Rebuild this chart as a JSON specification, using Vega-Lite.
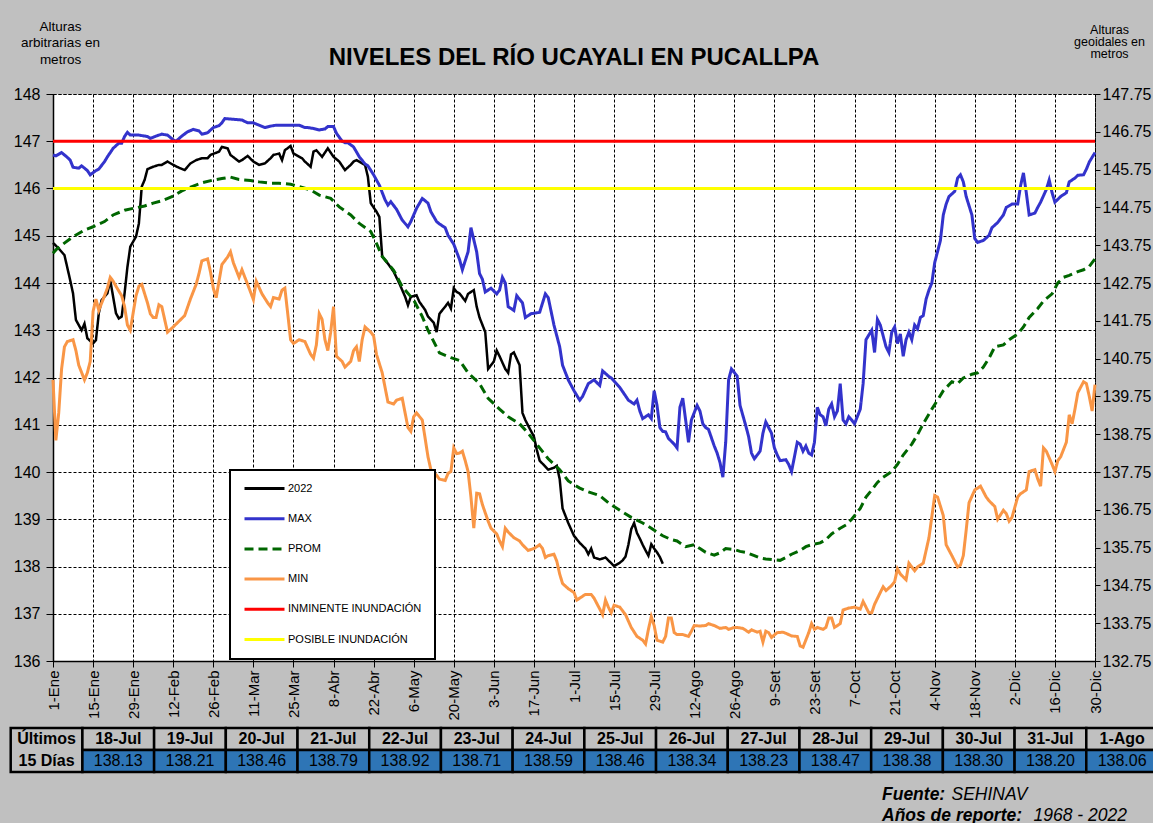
{
"$schema": "https://vega.github.io/schema/vega-lite/v6.json",
"width": 1042,
"height": 567,
"autosize": "none",
"padding": {"left": 53, "top": 94, "right": 58, "bottom": 162},
"background": "#c0c0c0",
"config": {
  "font": "Liberation Sans",
  "view": {"fill": "#ffffff", "stroke": "#000000", "strokeDash": [3, 2], "strokeWidth": 1},
  "axis": {"labelFont": "Liberation Sans", "titleFont": "Liberation Sans", "labelColor": "#000000", "titleColor": "#000000", "tickColor": "#000000", "domainColor": "#000000", "gridColor": "#000000", "gridDash": [3, 2], "gridWidth": 1, "gridOpacity": 1}
},
"title": {"text": "NIVELES  DEL RÍO UCAYALI  EN PUCALLPA", "font": "Liberation Sans", "fontSize": 24, "fontWeight": "bold", "color": "#000000", "anchor": "middle", "frame": "group", "offset": 0, "dy": 51},
"datasets": {
"d2022": [{"dia":1,"nivel":144.85},{"dia":3,"nivel":144.73},{"dia":5,"nivel":144.59},{"dia":7,"nivel":144.06},{"dia":8,"nivel":143.78},{"dia":9,"nivel":143.22},{"dia":11,"nivel":143.0},{"dia":12,"nivel":143.14},{"dia":13,"nivel":142.83},{"dia":15,"nivel":142.72},{"dia":16,"nivel":142.79},{"dia":17,"nivel":143.36},{"dia":18,"nivel":143.64},{"dia":20,"nivel":143.78},{"dia":21,"nivel":144.06},{"dia":23,"nivel":143.36},{"dia":24,"nivel":143.25},{"dia":25,"nivel":143.29},{"dia":26,"nivel":143.78},{"dia":27,"nivel":144.34},{"dia":28,"nivel":144.77},{"dia":30,"nivel":144.98},{"dia":31,"nivel":145.26},{"dia":32,"nivel":146.04},{"dia":33,"nivel":146.18},{"dia":34,"nivel":146.41},{"dia":36,"nivel":146.46},{"dia":38,"nivel":146.5},{"dia":39,"nivel":146.5},{"dia":41,"nivel":146.57},{"dia":43,"nivel":146.5},{"dia":45,"nivel":146.44},{"dia":47,"nivel":146.39},{"dia":49,"nivel":146.53},{"dia":51,"nivel":146.6},{"dia":53,"nivel":146.64},{"dia":55,"nivel":146.64},{"dia":56,"nivel":146.71},{"dia":59,"nivel":146.78},{"dia":60,"nivel":146.88},{"dia":62,"nivel":146.85},{"dia":63,"nivel":146.71},{"dia":66,"nivel":146.57},{"dia":67,"nivel":146.6},{"dia":69,"nivel":146.69},{"dia":71,"nivel":146.57},{"dia":73,"nivel":146.5},{"dia":75,"nivel":146.53},{"dia":77,"nivel":146.64},{"dia":78,"nivel":146.71},{"dia":80,"nivel":146.74},{"dia":81,"nivel":146.6},{"dia":82,"nivel":146.81},{"dia":84,"nivel":146.9},{"dia":85,"nivel":146.74},{"dia":88,"nivel":146.64},{"dia":89,"nivel":146.57},{"dia":91,"nivel":146.46},{"dia":92,"nivel":146.78},{"dia":93,"nivel":146.81},{"dia":95,"nivel":146.67},{"dia":97,"nivel":146.85},{"dia":99,"nivel":146.67},{"dia":101,"nivel":146.57},{"dia":103,"nivel":146.39},{"dia":105,"nivel":146.5},{"dia":106,"nivel":146.57},{"dia":107,"nivel":146.6},{"dia":110,"nivel":146.5},{"dia":111,"nivel":146.25},{"dia":112,"nivel":145.69},{"dia":114,"nivel":145.51},{"dia":115,"nivel":145.4},{"dia":116,"nivel":144.56},{"dia":118,"nivel":144.41},{"dia":120,"nivel":144.24},{"dia":122,"nivel":143.99},{"dia":124,"nivel":143.71},{"dia":125,"nivel":143.53},{"dia":126,"nivel":143.71},{"dia":128,"nivel":143.74},{"dia":129,"nivel":143.6},{"dia":131,"nivel":143.43},{"dia":132,"nivel":143.29},{"dia":134,"nivel":143.16},{"dia":135,"nivel":142.96},{"dia":136,"nivel":143.35},{"dia":138,"nivel":143.5},{"dia":139,"nivel":143.58},{"dia":140,"nivel":143.46},{"dia":141,"nivel":143.89},{"dia":142,"nivel":143.81},{"dia":143,"nivel":143.78},{"dia":145,"nivel":143.62},{"dia":146,"nivel":143.77},{"dia":148,"nivel":143.85},{"dia":149,"nivel":143.5},{"dia":150,"nivel":143.27},{"dia":152,"nivel":142.96},{"dia":153,"nivel":142.18},{"dia":155,"nivel":142.34},{"dia":156,"nivel":142.57},{"dia":157,"nivel":142.45},{"dia":159,"nivel":142.18},{"dia":160,"nivel":142.1},{"dia":161,"nivel":142.49},{"dia":162,"nivel":142.53},{"dia":164,"nivel":142.26},{"dia":165,"nivel":141.25},{"dia":166,"nivel":141.1},{"dia":167,"nivel":140.98},{"dia":169,"nivel":140.75},{"dia":170,"nivel":140.47},{"dia":171,"nivel":140.24},{"dia":174,"nivel":140.05},{"dia":176,"nivel":140.09},{"dia":177,"nivel":140.13},{"dia":178,"nivel":139.85},{"dia":179,"nivel":139.23},{"dia":181,"nivel":138.92},{"dia":183,"nivel":138.65},{"dia":185,"nivel":138.5},{"dia":187,"nivel":138.38},{"dia":188,"nivel":138.26},{"dia":189,"nivel":138.38},{"dia":190,"nivel":138.19},{"dia":192,"nivel":138.15},{"dia":194,"nivel":138.19},{"dia":196,"nivel":138.07},{"dia":197,"nivel":138.01},{"dia":199,"nivel":138.08},{"dia":200,"nivel":138.13},{"dia":201,"nivel":138.21},{"dia":202,"nivel":138.46},{"dia":203,"nivel":138.79},{"dia":204,"nivel":138.92},{"dia":205,"nivel":138.71},{"dia":206,"nivel":138.59},{"dia":207,"nivel":138.46},{"dia":208,"nivel":138.34},{"dia":209,"nivel":138.23},{"dia":210,"nivel":138.47},{"dia":211,"nivel":138.38},{"dia":212,"nivel":138.3},{"dia":213,"nivel":138.2},{"dia":214,"nivel":138.06}],
"dmax": [{"dia":1,"nivel":146.71},{"dia":2,"nivel":146.69},{"dia":4,"nivel":146.76},{"dia":6,"nivel":146.66},{"dia":7,"nivel":146.6},{"dia":8,"nivel":146.45},{"dia":10,"nivel":146.43},{"dia":11,"nivel":146.48},{"dia":13,"nivel":146.38},{"dia":14,"nivel":146.29},{"dia":16,"nivel":146.38},{"dia":17,"nivel":146.41},{"dia":19,"nivel":146.57},{"dia":20,"nivel":146.67},{"dia":22,"nivel":146.85},{"dia":24,"nivel":146.96},{"dia":25,"nivel":146.96},{"dia":26,"nivel":147.1},{"dia":27,"nivel":147.19},{"dia":28,"nivel":147.13},{"dia":31,"nivel":147.13},{"dia":34,"nivel":147.1},{"dia":35,"nivel":147.06},{"dia":37,"nivel":147.11},{"dia":39,"nivel":147.15},{"dia":41,"nivel":147.13},{"dia":43,"nivel":147.03},{"dia":44,"nivel":147.0},{"dia":46,"nivel":147.11},{"dia":48,"nivel":147.2},{"dia":50,"nivel":147.25},{"dia":52,"nivel":147.22},{"dia":53,"nivel":147.15},{"dia":55,"nivel":147.18},{"dia":57,"nivel":147.29},{"dia":59,"nivel":147.33},{"dia":60,"nivel":147.39},{"dia":61,"nivel":147.48},{"dia":63,"nivel":147.47},{"dia":65,"nivel":147.46},{"dia":67,"nivel":147.45},{"dia":69,"nivel":147.39},{"dia":71,"nivel":147.39},{"dia":73,"nivel":147.34},{"dia":75,"nivel":147.29},{"dia":77,"nivel":147.32},{"dia":79,"nivel":147.34},{"dia":82,"nivel":147.34},{"dia":85,"nivel":147.34},{"dia":87,"nivel":147.34},{"dia":89,"nivel":147.29},{"dia":90,"nivel":147.29},{"dia":92,"nivel":147.27},{"dia":94,"nivel":147.24},{"dia":96,"nivel":147.26},{"dia":97,"nivel":147.31},{"dia":99,"nivel":147.31},{"dia":100,"nivel":147.17},{"dia":102,"nivel":147.0},{"dia":103,"nivel":146.97},{"dia":104,"nivel":146.97},{"dia":106,"nivel":146.88},{"dia":108,"nivel":146.67},{"dia":110,"nivel":146.52},{"dia":111,"nivel":146.48},{"dia":113,"nivel":146.29},{"dia":115,"nivel":146.07},{"dia":117,"nivel":145.76},{"dia":118,"nivel":145.65},{"dia":119,"nivel":145.72},{"dia":121,"nivel":145.56},{"dia":123,"nivel":145.33},{"dia":125,"nivel":145.19},{"dia":126,"nivel":145.3},{"dia":128,"nivel":145.58},{"dia":130,"nivel":145.79},{"dia":132,"nivel":145.69},{"dia":133,"nivel":145.51},{"dia":135,"nivel":145.3},{"dia":136,"nivel":145.25},{"dia":138,"nivel":145.17},{"dia":139,"nivel":145.01},{"dia":141,"nivel":144.82},{"dia":143,"nivel":144.5},{"dia":144,"nivel":144.28},{"dia":146,"nivel":144.66},{"dia":147,"nivel":145.17},{"dia":149,"nivel":144.66},{"dia":150,"nivel":144.2},{"dia":151,"nivel":144.08},{"dia":152,"nivel":143.81},{"dia":154,"nivel":143.89},{"dia":156,"nivel":143.77},{"dia":157,"nivel":143.85},{"dia":158,"nivel":144.12},{"dia":159,"nivel":144.0},{"dia":160,"nivel":143.5},{"dia":162,"nivel":143.42},{"dia":163,"nivel":143.73},{"dia":165,"nivel":143.58},{"dia":166,"nivel":143.27},{"dia":168,"nivel":143.35},{"dia":171,"nivel":143.38},{"dia":173,"nivel":143.77},{"dia":174,"nivel":143.69},{"dia":176,"nivel":143.11},{"dia":178,"nivel":142.65},{"dia":179,"nivel":142.26},{"dia":181,"nivel":141.95},{"dia":183,"nivel":141.72},{"dia":185,"nivel":141.52},{"dia":186,"nivel":141.6},{"dia":188,"nivel":141.87},{"dia":190,"nivel":141.95},{"dia":192,"nivel":141.83},{"dia":193,"nivel":142.14},{"dia":195,"nivel":142.03},{"dia":196,"nivel":141.99},{"dia":199,"nivel":141.79},{"dia":202,"nivel":141.52},{"dia":204,"nivel":141.44},{"dia":205,"nivel":141.52},{"dia":206,"nivel":141.29},{"dia":207,"nivel":141.13},{"dia":209,"nivel":141.21},{"dia":210,"nivel":141.13},{"dia":211,"nivel":141.72},{"dia":212,"nivel":141.41},{"dia":213,"nivel":140.94},{"dia":214,"nivel":140.86},{"dia":215,"nivel":140.85},{"dia":216,"nivel":140.71},{"dia":218,"nivel":140.59},{"dia":219,"nivel":140.51},{"dia":220,"nivel":141.37},{"dia":221,"nivel":141.56},{"dia":222,"nivel":141.1},{"dia":223,"nivel":140.63},{"dia":224,"nivel":141.1},{"dia":226,"nivel":141.41},{"dia":227,"nivel":141.29},{"dia":228,"nivel":141.02},{"dia":229,"nivel":140.94},{"dia":230,"nivel":140.9},{"dia":232,"nivel":140.55},{"dia":233,"nivel":140.4},{"dia":234,"nivel":140.2},{"dia":235,"nivel":139.89},{"dia":236,"nivel":140.63},{"dia":237,"nivel":141.95},{"dia":238,"nivel":142.18},{"dia":240,"nivel":142.03},{"dia":241,"nivel":141.41},{"dia":243,"nivel":140.98},{"dia":244,"nivel":140.75},{"dia":245,"nivel":140.4},{"dia":246,"nivel":140.28},{"dia":248,"nivel":140.44},{"dia":249,"nivel":140.82},{"dia":250,"nivel":141.06},{"dia":252,"nivel":140.82},{"dia":253,"nivel":140.51},{"dia":254,"nivel":140.36},{"dia":255,"nivel":140.24},{"dia":257,"nivel":140.26},{"dia":258,"nivel":140.16},{"dia":259,"nivel":140.01},{"dia":260,"nivel":140.32},{"dia":261,"nivel":140.63},{"dia":262,"nivel":140.59},{"dia":263,"nivel":140.44},{"dia":264,"nivel":140.55},{"dia":265,"nivel":140.4},{"dia":266,"nivel":140.36},{"dia":267,"nivel":140.63},{"dia":268,"nivel":141.37},{"dia":269,"nivel":141.21},{"dia":270,"nivel":141.17},{"dia":271,"nivel":140.98},{"dia":272,"nivel":141.33},{"dia":273,"nivel":141.44},{"dia":274,"nivel":141.17},{"dia":275,"nivel":141.29},{"dia":276,"nivel":141.87},{"dia":277,"nivel":141.1},{"dia":278,"nivel":141.02},{"dia":279,"nivel":141.17},{"dia":280,"nivel":141.1},{"dia":281,"nivel":141.02},{"dia":283,"nivel":141.33},{"dia":284,"nivel":141.87},{"dia":285,"nivel":142.8},{"dia":287,"nivel":143.0},{"dia":288,"nivel":142.53},{"dia":289,"nivel":143.23},{"dia":290,"nivel":143.11},{"dia":292,"nivel":142.65},{"dia":293,"nivel":142.53},{"dia":294,"nivel":142.96},{"dia":295,"nivel":143.07},{"dia":296,"nivel":142.72},{"dia":297,"nivel":142.92},{"dia":298,"nivel":142.45},{"dia":299,"nivel":142.8},{"dia":300,"nivel":142.96},{"dia":301,"nivel":142.8},{"dia":302,"nivel":143.11},{"dia":303,"nivel":143.03},{"dia":304,"nivel":143.27},{"dia":305,"nivel":143.31},{"dia":306,"nivel":143.66},{"dia":307,"nivel":143.85},{"dia":308,"nivel":144.0},{"dia":309,"nivel":144.43},{"dia":311,"nivel":144.9},{"dia":312,"nivel":145.44},{"dia":313,"nivel":145.67},{"dia":314,"nivel":145.83},{"dia":316,"nivel":145.94},{"dia":317,"nivel":146.22},{"dia":318,"nivel":146.29},{"dia":319,"nivel":146.14},{"dia":320,"nivel":145.83},{"dia":322,"nivel":145.44},{"dia":323,"nivel":144.94},{"dia":324,"nivel":144.86},{"dia":326,"nivel":144.9},{"dia":328,"nivel":145.01},{"dia":329,"nivel":145.17},{"dia":331,"nivel":145.28},{"dia":333,"nivel":145.44},{"dia":334,"nivel":145.6},{"dia":336,"nivel":145.67},{"dia":338,"nivel":145.67},{"dia":339,"nivel":146.06},{"dia":340,"nivel":146.33},{"dia":341,"nivel":145.91},{"dia":342,"nivel":145.44},{"dia":344,"nivel":145.48},{"dia":345,"nivel":145.6},{"dia":346,"nivel":145.71},{"dia":348,"nivel":145.98},{"dia":349,"nivel":146.18},{"dia":350,"nivel":145.91},{"dia":351,"nivel":145.71},{"dia":353,"nivel":145.83},{"dia":355,"nivel":145.91},{"dia":356,"nivel":146.14},{"dia":358,"nivel":146.22},{"dia":359,"nivel":146.28},{"dia":361,"nivel":146.29},{"dia":362,"nivel":146.41},{"dia":363,"nivel":146.56},{"dia":365,"nivel":146.76}],
"dprom": [{"dia":1,"nivel":144.63},{"dia":2,"nivel":144.7},{"dia":4,"nivel":144.8},{"dia":8,"nivel":144.98},{"dia":12,"nivel":145.12},{"dia":15,"nivel":145.19},{"dia":19,"nivel":145.3},{"dia":22,"nivel":145.44},{"dia":26,"nivel":145.54},{"dia":29,"nivel":145.58},{"dia":33,"nivel":145.63},{"dia":36,"nivel":145.69},{"dia":39,"nivel":145.74},{"dia":43,"nivel":145.84},{"dia":46,"nivel":145.95},{"dia":50,"nivel":146.05},{"dia":53,"nivel":146.12},{"dia":57,"nivel":146.18},{"dia":60,"nivel":146.21},{"dia":63,"nivel":146.24},{"dia":66,"nivel":146.19},{"dia":70,"nivel":146.17},{"dia":73,"nivel":146.14},{"dia":77,"nivel":146.11},{"dia":80,"nivel":146.11},{"dia":84,"nivel":146.09},{"dia":87,"nivel":146.04},{"dia":91,"nivel":145.97},{"dia":94,"nivel":145.86},{"dia":98,"nivel":145.79},{"dia":101,"nivel":145.61},{"dia":105,"nivel":145.44},{"dia":108,"nivel":145.26},{"dia":112,"nivel":145.09},{"dia":114,"nivel":144.84},{"dia":116,"nivel":144.56},{"dia":120,"nivel":144.27},{"dia":123,"nivel":143.92},{"dia":127,"nivel":143.64},{"dia":130,"nivel":143.29},{"dia":132,"nivel":143.0},{"dia":136,"nivel":142.52},{"dia":140,"nivel":142.42},{"dia":143,"nivel":142.36},{"dia":146,"nivel":142.1},{"dia":150,"nivel":141.87},{"dia":153,"nivel":141.56},{"dia":157,"nivel":141.33},{"dia":160,"nivel":141.17},{"dia":164,"nivel":141.02},{"dia":167,"nivel":140.82},{"dia":171,"nivel":140.51},{"dia":174,"nivel":140.28},{"dia":178,"nivel":140.05},{"dia":181,"nivel":139.81},{"dia":185,"nivel":139.66},{"dia":188,"nivel":139.58},{"dia":192,"nivel":139.5},{"dia":195,"nivel":139.35},{"dia":199,"nivel":139.19},{"dia":203,"nivel":139.04},{"dia":207,"nivel":138.92},{"dia":210,"nivel":138.81},{"dia":214,"nivel":138.65},{"dia":217,"nivel":138.57},{"dia":219,"nivel":138.54},{"dia":222,"nivel":138.42},{"dia":225,"nivel":138.46},{"dia":227,"nivel":138.38},{"dia":229,"nivel":138.3},{"dia":232,"nivel":138.24},{"dia":234,"nivel":138.29},{"dia":236,"nivel":138.38},{"dia":239,"nivel":138.36},{"dia":241,"nivel":138.32},{"dia":243,"nivel":138.3},{"dia":246,"nivel":138.23},{"dia":248,"nivel":138.18},{"dia":250,"nivel":138.16},{"dia":252,"nivel":138.15},{"dia":255,"nivel":138.13},{"dia":257,"nivel":138.19},{"dia":259,"nivel":138.26},{"dia":262,"nivel":138.34},{"dia":264,"nivel":138.42},{"dia":266,"nivel":138.46},{"dia":269,"nivel":138.5},{"dia":271,"nivel":138.57},{"dia":273,"nivel":138.69},{"dia":276,"nivel":138.81},{"dia":278,"nivel":138.88},{"dia":280,"nivel":139.0},{"dia":283,"nivel":139.23},{"dia":285,"nivel":139.47},{"dia":287,"nivel":139.62},{"dia":289,"nivel":139.78},{"dia":291,"nivel":139.89},{"dia":294,"nivel":140.01},{"dia":296,"nivel":140.16},{"dia":298,"nivel":140.36},{"dia":301,"nivel":140.59},{"dia":303,"nivel":140.79},{"dia":305,"nivel":141.02},{"dia":308,"nivel":141.33},{"dia":310,"nivel":141.52},{"dia":312,"nivel":141.72},{"dia":315,"nivel":141.91},{"dia":317,"nivel":141.87},{"dia":319,"nivel":141.99},{"dia":322,"nivel":142.07},{"dia":324,"nivel":142.1},{"dia":326,"nivel":142.22},{"dia":328,"nivel":142.41},{"dia":330,"nivel":142.65},{"dia":333,"nivel":142.69},{"dia":335,"nivel":142.8},{"dia":338,"nivel":142.92},{"dia":340,"nivel":143.07},{"dia":342,"nivel":143.27},{"dia":345,"nivel":143.46},{"dia":347,"nivel":143.62},{"dia":350,"nivel":143.77},{"dia":352,"nivel":144.0},{"dia":354,"nivel":144.12},{"dia":356,"nivel":144.16},{"dia":359,"nivel":144.24},{"dia":361,"nivel":144.28},{"dia":363,"nivel":144.35},{"dia":365,"nivel":144.51}],
"dmin": [{"dia":1,"nivel":141.95},{"dia":2,"nivel":140.67},{"dia":3,"nivel":141.25},{"dia":4,"nivel":142.18},{"dia":5,"nivel":142.65},{"dia":6,"nivel":142.76},{"dia":8,"nivel":142.8},{"dia":9,"nivel":142.57},{"dia":10,"nivel":142.26},{"dia":12,"nivel":141.95},{"dia":13,"nivel":142.1},{"dia":14,"nivel":142.34},{"dia":15,"nivel":143.4},{"dia":16,"nivel":143.66},{"dia":17,"nivel":143.42},{"dia":19,"nivel":143.73},{"dia":20,"nivel":143.89},{"dia":21,"nivel":144.12},{"dia":22,"nivel":144.04},{"dia":23,"nivel":143.93},{"dia":25,"nivel":143.73},{"dia":26,"nivel":143.5},{"dia":27,"nivel":143.11},{"dia":28,"nivel":143.0},{"dia":30,"nivel":143.73},{"dia":31,"nivel":143.93},{"dia":32,"nivel":143.97},{"dia":34,"nivel":143.58},{"dia":35,"nivel":143.35},{"dia":36,"nivel":143.27},{"dia":37,"nivel":143.27},{"dia":38,"nivel":143.54},{"dia":39,"nivel":143.5},{"dia":41,"nivel":142.96},{"dia":43,"nivel":143.07},{"dia":45,"nivel":143.19},{"dia":47,"nivel":143.31},{"dia":49,"nivel":143.66},{"dia":51,"nivel":143.97},{"dia":52,"nivel":144.2},{"dia":53,"nivel":144.47},{"dia":55,"nivel":144.51},{"dia":56,"nivel":144.24},{"dia":57,"nivel":143.89},{"dia":58,"nivel":143.69},{"dia":59,"nivel":144.04},{"dia":60,"nivel":144.39},{"dia":62,"nivel":144.55},{"dia":63,"nivel":144.66},{"dia":64,"nivel":144.43},{"dia":66,"nivel":144.12},{"dia":67,"nivel":144.28},{"dia":69,"nivel":143.97},{"dia":71,"nivel":143.65},{"dia":72,"nivel":144.04},{"dia":74,"nivel":143.77},{"dia":76,"nivel":143.58},{"dia":77,"nivel":143.5},{"dia":78,"nivel":143.69},{"dia":80,"nivel":143.66},{"dia":81,"nivel":143.85},{"dia":82,"nivel":143.89},{"dia":83,"nivel":143.35},{"dia":84,"nivel":142.8},{"dia":85,"nivel":142.72},{"dia":87,"nivel":142.8},{"dia":89,"nivel":142.76},{"dia":91,"nivel":142.49},{"dia":92,"nivel":142.41},{"dia":93,"nivel":142.69},{"dia":94,"nivel":143.35},{"dia":95,"nivel":143.23},{"dia":96,"nivel":142.8},{"dia":97,"nivel":142.57},{"dia":98,"nivel":142.96},{"dia":99,"nivel":143.5},{"dia":100,"nivel":142.45},{"dia":102,"nivel":142.34},{"dia":103,"nivel":142.22},{"dia":105,"nivel":142.34},{"dia":106,"nivel":142.57},{"dia":107,"nivel":142.65},{"dia":108,"nivel":142.34},{"dia":109,"nivel":142.8},{"dia":110,"nivel":143.07},{"dia":112,"nivel":142.96},{"dia":113,"nivel":142.88},{"dia":114,"nivel":142.49},{"dia":116,"nivel":142.1},{"dia":117,"nivel":141.79},{"dia":118,"nivel":141.48},{"dia":120,"nivel":141.44},{"dia":121,"nivel":141.52},{"dia":123,"nivel":141.56},{"dia":124,"nivel":141.25},{"dia":125,"nivel":140.94},{"dia":126,"nivel":140.86},{"dia":127,"nivel":141.17},{"dia":128,"nivel":141.25},{"dia":130,"nivel":141.1},{"dia":131,"nivel":140.71},{"dia":132,"nivel":140.32},{"dia":133,"nivel":140.05},{"dia":135,"nivel":139.93},{"dia":136,"nivel":139.85},{"dia":138,"nivel":139.82},{"dia":139,"nivel":139.97},{"dia":140,"nivel":140.01},{"dia":141,"nivel":140.51},{"dia":142,"nivel":140.39},{"dia":143,"nivel":140.4},{"dia":144,"nivel":140.44},{"dia":145,"nivel":140.24},{"dia":146,"nivel":140.01},{"dia":147,"nivel":139.47},{"dia":148,"nivel":138.81},{"dia":149,"nivel":139.55},{"dia":150,"nivel":139.54},{"dia":151,"nivel":139.31},{"dia":153,"nivel":138.96},{"dia":154,"nivel":138.81},{"dia":156,"nivel":138.69},{"dia":157,"nivel":138.54},{"dia":158,"nivel":138.42},{"dia":159,"nivel":138.81},{"dia":160,"nivel":138.73},{"dia":162,"nivel":138.61},{"dia":164,"nivel":138.54},{"dia":165,"nivel":138.46},{"dia":167,"nivel":138.34},{"dia":169,"nivel":138.38},{"dia":171,"nivel":138.46},{"dia":172,"nivel":138.38},{"dia":173,"nivel":138.19},{"dia":174,"nivel":138.23},{"dia":176,"nivel":138.26},{"dia":177,"nivel":138.11},{"dia":178,"nivel":137.84},{"dia":179,"nivel":137.64},{"dia":181,"nivel":137.53},{"dia":183,"nivel":137.45},{"dia":184,"nivel":137.29},{"dia":186,"nivel":137.37},{"dia":187,"nivel":137.41},{"dia":189,"nivel":137.41},{"dia":190,"nivel":137.33},{"dia":192,"nivel":137.1},{"dia":193,"nivel":136.98},{"dia":194,"nivel":137.29},{"dia":195,"nivel":137.14},{"dia":196,"nivel":137.02},{"dia":197,"nivel":137.18},{"dia":199,"nivel":137.14},{"dia":201,"nivel":136.98},{"dia":203,"nivel":136.71},{"dia":205,"nivel":136.52},{"dia":207,"nivel":136.44},{"dia":208,"nivel":136.36},{"dia":209,"nivel":136.67},{"dia":210,"nivel":136.94},{"dia":211,"nivel":136.75},{"dia":212,"nivel":136.44},{"dia":214,"nivel":136.4},{"dia":215,"nivel":136.52},{"dia":216,"nivel":136.91},{"dia":217,"nivel":136.91},{"dia":218,"nivel":136.6},{"dia":219,"nivel":136.56},{"dia":221,"nivel":136.56},{"dia":223,"nivel":136.52},{"dia":224,"nivel":136.63},{"dia":225,"nivel":136.75},{"dia":227,"nivel":136.74},{"dia":229,"nivel":136.75},{"dia":230,"nivel":136.79},{"dia":232,"nivel":136.75},{"dia":234,"nivel":136.69},{"dia":236,"nivel":136.71},{"dia":237,"nivel":136.67},{"dia":239,"nivel":136.71},{"dia":240,"nivel":136.71},{"dia":242,"nivel":136.69},{"dia":244,"nivel":136.61},{"dia":245,"nivel":136.66},{"dia":247,"nivel":136.61},{"dia":248,"nivel":136.63},{"dia":249,"nivel":136.4},{"dia":250,"nivel":136.63},{"dia":251,"nivel":136.6},{"dia":252,"nivel":136.5},{"dia":254,"nivel":136.6},{"dia":256,"nivel":136.61},{"dia":258,"nivel":136.56},{"dia":259,"nivel":136.53},{"dia":261,"nivel":136.52},{"dia":262,"nivel":136.32},{"dia":263,"nivel":136.29},{"dia":265,"nivel":136.6},{"dia":266,"nivel":136.79},{"dia":267,"nivel":136.67},{"dia":268,"nivel":136.71},{"dia":270,"nivel":136.67},{"dia":271,"nivel":136.71},{"dia":272,"nivel":136.91},{"dia":273,"nivel":136.91},{"dia":274,"nivel":136.71},{"dia":275,"nivel":136.75},{"dia":276,"nivel":136.79},{"dia":277,"nivel":137.08},{"dia":279,"nivel":137.12},{"dia":281,"nivel":137.14},{"dia":283,"nivel":137.1},{"dia":284,"nivel":137.26},{"dia":286,"nivel":137.02},{"dia":287,"nivel":137.02},{"dia":288,"nivel":137.2},{"dia":290,"nivel":137.45},{"dia":291,"nivel":137.57},{"dia":292,"nivel":137.49},{"dia":294,"nivel":137.6},{"dia":295,"nivel":137.68},{"dia":296,"nivel":137.95},{"dia":297,"nivel":137.84},{"dia":299,"nivel":137.72},{"dia":300,"nivel":138.07},{"dia":301,"nivel":137.99},{"dia":302,"nivel":137.91},{"dia":303,"nivel":137.99},{"dia":305,"nivel":138.07},{"dia":306,"nivel":138.34},{"dia":307,"nivel":138.61},{"dia":309,"nivel":139.5},{"dia":310,"nivel":139.47},{"dia":312,"nivel":139.08},{"dia":313,"nivel":138.46},{"dia":315,"nivel":138.23},{"dia":317,"nivel":137.99},{"dia":318,"nivel":138.03},{"dia":319,"nivel":138.23},{"dia":320,"nivel":138.77},{"dia":321,"nivel":139.35},{"dia":323,"nivel":139.62},{"dia":325,"nivel":139.7},{"dia":327,"nivel":139.47},{"dia":328,"nivel":139.39},{"dia":330,"nivel":139.27},{"dia":331,"nivel":139.0},{"dia":333,"nivel":139.19},{"dia":334,"nivel":139.12},{"dia":335,"nivel":138.96},{"dia":336,"nivel":139.04},{"dia":338,"nivel":139.47},{"dia":339,"nivel":139.54},{"dia":341,"nivel":139.62},{"dia":342,"nivel":140.01},{"dia":344,"nivel":140.05},{"dia":345,"nivel":139.85},{"dia":346,"nivel":139.7},{"dia":347,"nivel":140.51},{"dia":348,"nivel":140.44},{"dia":350,"nivel":140.16},{"dia":351,"nivel":140.01},{"dia":352,"nivel":140.24},{"dia":353,"nivel":140.32},{"dia":355,"nivel":140.63},{"dia":356,"nivel":141.21},{"dia":357,"nivel":141.02},{"dia":358,"nivel":141.33},{"dia":359,"nivel":141.68},{"dia":361,"nivel":141.91},{"dia":362,"nivel":141.87},{"dia":363,"nivel":141.6},{"dia":364,"nivel":141.29},{"dia":365,"nivel":141.85}],
"umbrales": [{"serie": "INMINENTE INUNDACIÓN", "nivel": 147}, {"serie": "POSIBLE INUNDACIÓN", "nivel": 146}],
"ultimos": [{"fecha":"18-Jul","nivel":138.13},{"fecha":"19-Jul","nivel":138.21},{"fecha":"20-Jul","nivel":138.46},{"fecha":"21-Jul","nivel":138.79},{"fecha":"22-Jul","nivel":138.92},{"fecha":"23-Jul","nivel":138.71},{"fecha":"24-Jul","nivel":138.59},{"fecha":"25-Jul","nivel":138.46},{"fecha":"26-Jul","nivel":138.34},{"fecha":"27-Jul","nivel":138.23},{"fecha":"28-Jul","nivel":138.47},{"fecha":"29-Jul","nivel":138.38},{"fecha":"30-Jul","nivel":138.3},{"fecha":"31-Jul","nivel":138.2},{"fecha":"1-Ago","nivel":138.06}]
},
"layer": [
  {
    "layer": [
      {"data": {"name": "d2022"}, "mark": {"type": "line", "strokeWidth": 2.5},
       "encoding": {
         "x": {"field": "dia", "type": "quantitative", "scale": {"domain": [1, 365], "nice": false, "zero": false},
               "axis": {"values": [1,15,29,43,57,71,85,99,113,127,141,155,169,183,197,211,225,239,253,267,281,295,309,323,337,351,365],
                        "labelExpr": "date(datetime(2020, 0, datum.value)) + '-' + ['Ene','Feb','Mar','Abr','May','Jun','Jul','Ago','Set','Oct','Nov','Dic'][month(datetime(2020, 0, datum.value))]",
                        "labelAngle": 270, "labelFontSize": 15, "labelPadding": 3, "labelOverlap": false, "labelFlush": false,
                        "tickSize": 6, "tickWidth": 1, "domainWidth": 1.5, "grid": true,
                        "title": "SEHINAV", "titleX": 898, "titleY": 138, "titleAlign": "left", "titleAnchor": "start", "titleBaseline": "alphabetic", "titleFontSize": 17.5, "titleFontStyle": "italic", "titleFontWeight": "normal", "titleAngle": 0}},
         "y": {"field": "nivel", "type": "quantitative", "scale": {"domain": [136, 148], "nice": false, "zero": false},
               "axis": {"values": [136,137,138,139,140,141,142,143,144,145,146,147,148], "labelFontSize": 16, "labelPadding": 6, "tickSize": 7, "domainWidth": 1.5, "grid": true,
                        "title": ["Alturas", "arbitrarias en", "metros"], "titleAngle": 0, "titleAlign": "center", "titleBaseline": "top", "titleX": 7, "titleY": -75, "titleFontSize": 13.5, "titleFontWeight": "normal", "titleLineHeight": 16.5}},
         "color": {"datum": "2022", "type": "nominal",
                   "scale": {"domain": ["2022", "MAX", "PROM", "MIN", "INMINENTE INUNDACIÓN", "POSIBLE INUNDACIÓN"], "range": ["#000000", "#3333cc", "#006600", "#f99646", "#ff0000", "#ffff00"]},
                   "legend": {"title": null, "orient": "none", "legendX": 177, "legendY": 376, "symbolType": "M-5,0H5", "symbolSize": 64, "symbolStrokeWidth": 3, "symbolOffset": 16, "labelFontSize": 11, "labelFont": "Liberation Sans", "labelColor": "#000000", "fillColor": "#ffffff", "strokeColor": "#000000", "padding": 13, "rowPadding": 17.2, "labelOffset": 18, "encode": {"legend": {"update": {"strokeWidth": {"value": 2}}}}}},
         "strokeDash": {"datum": "2022", "type": "nominal",
                   "scale": {"domain": ["2022", "MAX", "PROM", "MIN", "INMINENTE INUNDACIÓN", "POSIBLE INUNDACIÓN"], "range": [[1, 0], [1, 0], [9, 5], [1, 0], [1, 0], [1, 0]]},
                   "legend": {"title": null, "orient": "none", "legendX": 177, "legendY": 376, "symbolType": "M-5,0H5", "symbolSize": 64, "symbolStrokeWidth": 3, "symbolOffset": 16, "labelFontSize": 11, "labelFont": "Liberation Sans", "labelColor": "#000000", "fillColor": "#ffffff", "strokeColor": "#000000", "padding": 13, "rowPadding": 17.2, "labelOffset": 18, "encode": {"legend": {"update": {"strokeWidth": {"value": 2}}}}}}
       }},
      {"data": {"name": "dmax"}, "mark": {"type": "line", "strokeWidth": 3},
       "encoding": {"x": {"field": "dia", "type": "quantitative"}, "y": {"field": "nivel", "type": "quantitative"}, "color": {"datum": "MAX", "type": "nominal"}, "strokeDash": {"datum": "MAX", "type": "nominal"}}},
      {"data": {"name": "dprom"}, "mark": {"type": "line", "strokeWidth": 3},
       "encoding": {"x": {"field": "dia", "type": "quantitative"}, "y": {"field": "nivel", "type": "quantitative"}, "color": {"datum": "PROM", "type": "nominal"}, "strokeDash": {"datum": "PROM", "type": "nominal"}}},
      {"data": {"name": "dmin"}, "mark": {"type": "line", "strokeWidth": 3},
       "encoding": {"x": {"field": "dia", "type": "quantitative"}, "y": {"field": "nivel", "type": "quantitative"}, "color": {"datum": "MIN", "type": "nominal"}, "strokeDash": {"datum": "MIN", "type": "nominal"}}},
      {"data": {"name": "umbrales"}, "mark": {"type": "rule", "strokeWidth": 3},
       "encoding": {"y": {"field": "nivel", "type": "quantitative"}, "color": {"field": "serie", "type": "nominal", "legend": {"title": null}}, "strokeDash": {"field": "serie", "type": "nominal", "legend": {"title": null}}}}
    ]
  },
  {
    "data": {"name": "umbrales"},
    "mark": {"type": "rule", "strokeOpacity": 0},
    "encoding": {
      "y": {"datum": 140, "type": "quantitative", "scale": {"domain": [132.75, 147.75], "nice": false, "zero": false},
            "axis": {"orient": "right", "values": [132.75,133.75,134.75,135.75,136.75,137.75,138.75,139.75,140.75,141.75,142.75,143.75,144.75,145.75,146.75,147.75], "format": ".2f", "labelFontSize": 16, "labelPadding": 2, "tickSize": 5, "domain": false, "grid": false,
                     "title": ["Alturas", "geoidales en", "metros"], "titleAngle": 0, "titleAlign": "center", "titleBaseline": "top", "titleX": 14, "titleY": -71, "titleFontSize": 12.5, "titleFontWeight": "normal", "titleLineHeight": 12}}
    }
  },
  {
    "data": {"name": "ultimos"},
    "layer": [
      {"data": {"values": [{"linea1": "Últimos", "linea2": "15 Días"}]},
       "mark": {"type": "rect", "fill": "#c0c0c0", "stroke": "#000000", "strokeWidth": 2.5},
       "encoding": {
         "x": {"datum": "Últimos", "type": "nominal",
               "scale": {"type": "band", "domain": ["Últimos","18-Jul","19-Jul","20-Jul","21-Jul","22-Jul","23-Jul","24-Jul","25-Jul","26-Jul","27-Jul","28-Jul","29-Jul","30-Jul","31-Jul","1-Ago"], "range": [-42.3, 1105], "paddingInner": 0, "paddingOuter": 0},
               "axis": {"orient": "bottom", "labels": false, "ticks": false, "domain": false, "grid": false, "title": ["Fuente:", "Años de reporte:"], "titleX": 828.5, "titleY": 138, "titleAlign": "left", "titleAnchor": "start", "titleBaseline": "alphabetic", "titleFontSize": 17.5, "titleFontStyle": "italic", "titleFontWeight": "bold", "titleLineHeight": 21, "titleAngle": 0}},
         "y": {"datum": 0, "type": "quantitative", "scale": {"domain": [0, 2], "range": [634, 678], "nice": false, "zero": false},
               "axis": {"orient": "right", "labels": false, "ticks": false, "domain": false, "grid": false, "title": "1968 - 2022", "titleX": -62, "titleY": 726, "titleAngle": 0, "titleAlign": "left", "titleAnchor": "start", "titleBaseline": "alphabetic", "titleFontSize": 17.5, "titleFontStyle": "italic", "titleFontWeight": "normal"}},
         "y2": {"datum": 2}
       }},
      {"mark": {"type": "rect", "fill": "#c0c0c0", "stroke": "#000000", "strokeWidth": 2.5},
       "encoding": {"x": {"field": "fecha", "type": "nominal"}, "y": {"datum": 0, "type": "quantitative"}, "y2": {"datum": 1}}},
      {"mark": {"type": "rect", "fill": "#2e75b6", "stroke": "#000000", "strokeWidth": 2.5},
       "encoding": {"x": {"field": "fecha", "type": "nominal"}, "y": {"datum": 1, "type": "quantitative"}, "y2": {"datum": 2}}},
      {"mark": {"type": "text", "fontWeight": "bold", "fontSize": 16, "baseline": "middle", "color": "#000000"},
       "encoding": {"x": {"field": "fecha", "type": "nominal"}, "y": {"datum": 0.5, "type": "quantitative"}, "text": {"field": "fecha"}}},
      {"mark": {"type": "text", "fontSize": 16, "baseline": "middle", "color": "#000000"},
       "encoding": {"x": {"field": "fecha", "type": "nominal"}, "y": {"datum": 1.5, "type": "quantitative"}, "text": {"field": "nivel", "type": "quantitative", "format": ".2f"}}},
      {"data": {"values": [{"linea1": "Últimos", "linea2": "15 Días"}]},
       "mark": {"type": "text", "fontWeight": "bold", "fontSize": 16, "baseline": "middle", "color": "#000000"},
       "encoding": {"x": {"datum": "Últimos", "type": "nominal"}, "y": {"datum": 0.5, "type": "quantitative"}, "text": {"field": "linea1"}}},
      {"data": {"values": [{"linea1": "Últimos", "linea2": "15 Días"}]},
       "mark": {"type": "text", "fontWeight": "bold", "fontSize": 16, "baseline": "middle", "color": "#000000"},
       "encoding": {"x": {"datum": "Últimos", "type": "nominal"}, "y": {"datum": 1.5, "type": "quantitative"}, "text": {"field": "linea2"}}}
    ]
  }
],
"resolve": {"scale": {"x": "independent", "y": "independent"}}
}
